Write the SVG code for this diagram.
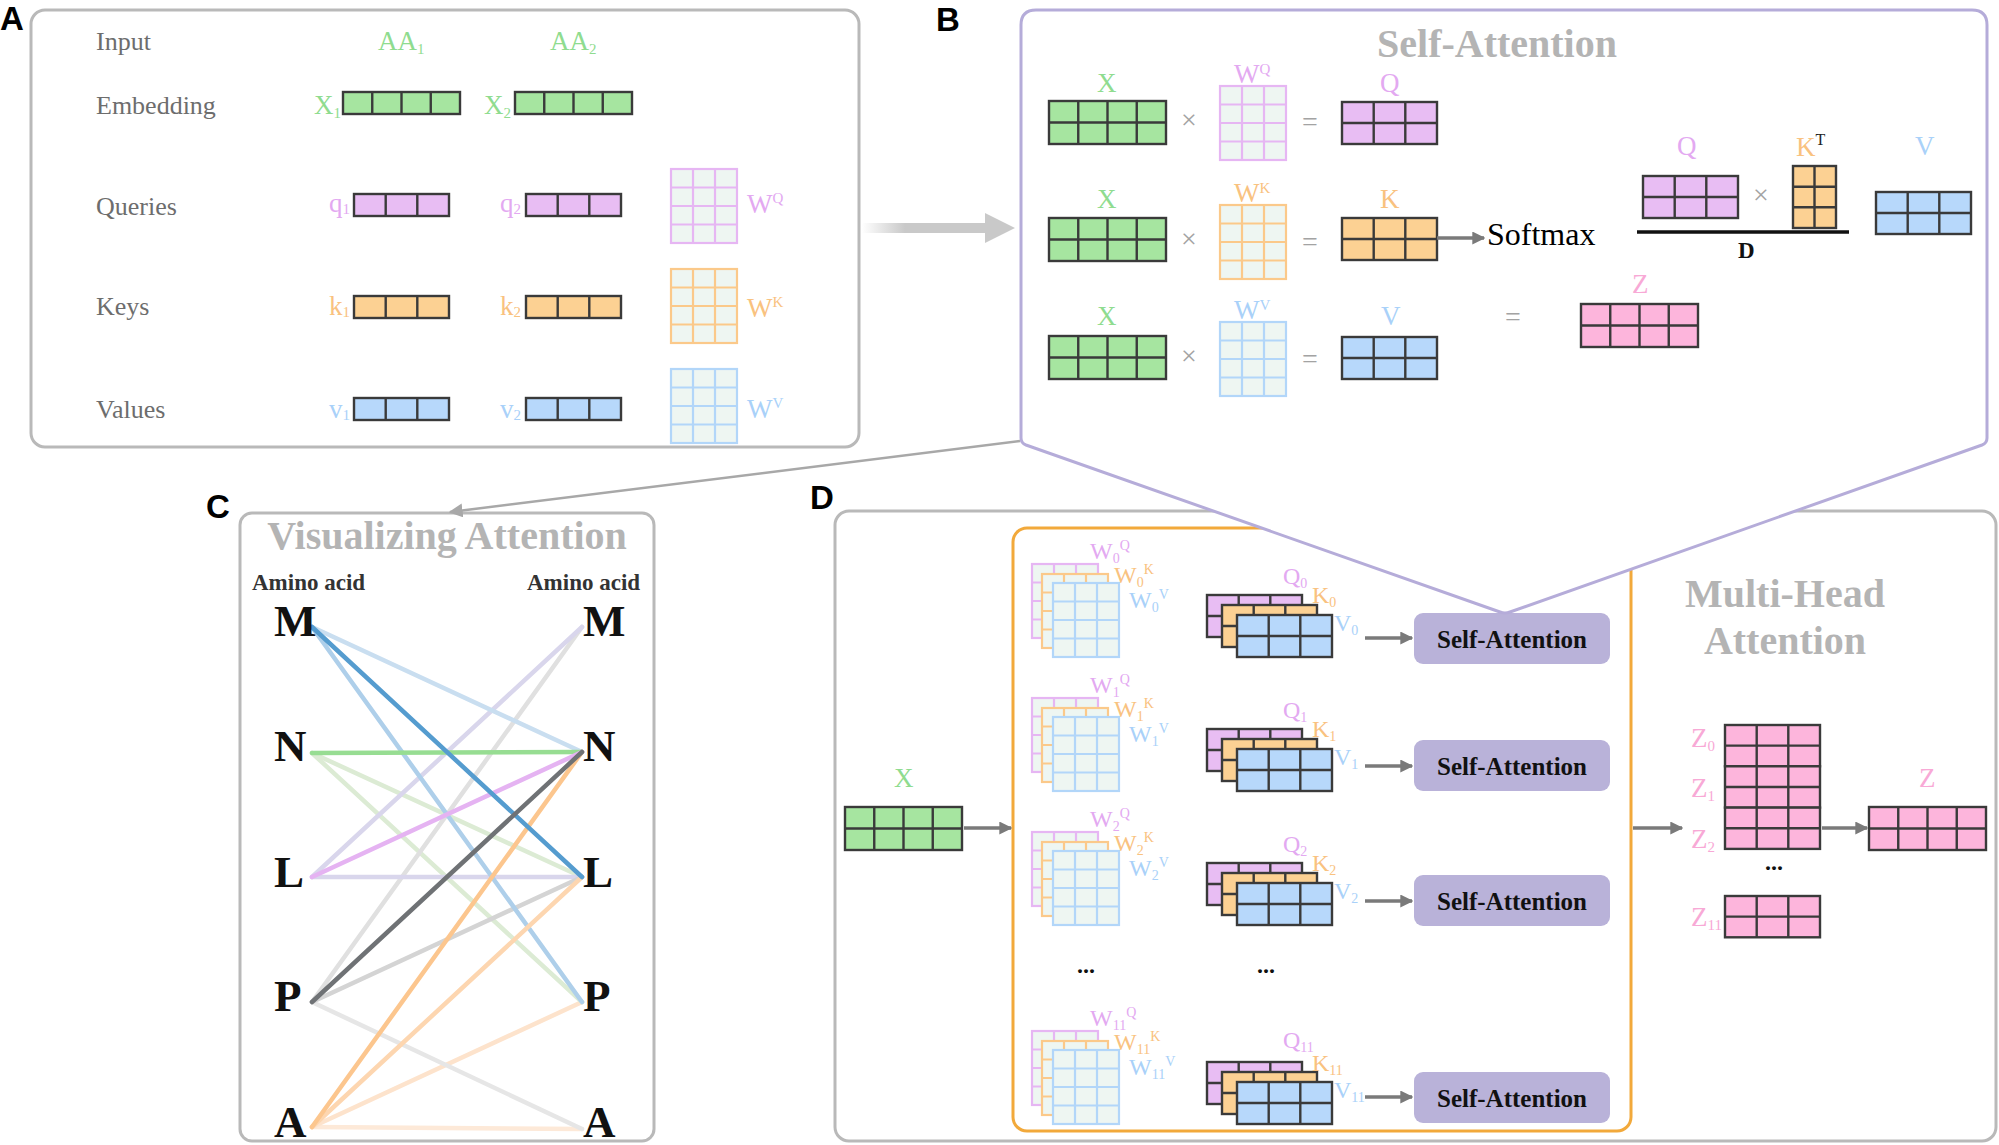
<svg xmlns="http://www.w3.org/2000/svg" width="1999" height="1145" viewBox="0 0 1999 1145">
<style>
text{font-family:"Liberation Serif","Times New Roman",serif}
.pl{font-family:"Liberation Sans",Arial,sans-serif;font-weight:bold;font-size:33px;fill:#000}
.row{font-size:26px;fill:#6d6d6d}
.lab{font-size:27px}
.sm{font-size:15px}
.wl{font-size:24px}
.ws{font-size:14px}
.gr{fill:#8fdc8f}.vi{fill:#e3a9f1}.or{fill:#f9c27f}.bl{fill:#a9d1f9}.pk{fill:#f8a9d6}
.op{font-size:28px;fill:#a3a3a3}
.ttl{font-weight:bold;font-size:40px;fill:#b4b4b4}
.sa{font-weight:bold;font-size:25px;fill:#111}
.dots{font-weight:bold;font-size:24px;fill:#111}
.aa{font-weight:bold;font-size:45px;fill:#111}
.am{font-weight:bold;font-size:23px;fill:#333}
.box{fill:#fff;stroke:#b9b9b9;stroke-width:3}
.dk{stroke:#3a3a3a;stroke-width:2.4}
.ar{stroke:#7a7a7a;stroke-width:3.5;fill:none;marker-end:url(#ah)}
.cl line{stroke-width:4.5;stroke-linecap:round}
</style>
<defs>
<marker id="ah" viewBox="0 0 10 10" refX="9" refY="5" markerWidth="13" markerHeight="13" markerUnits="userSpaceOnUse" orient="auto"><path d="M0 0L10 5L0 10z" fill="#7a7a7a"/></marker>
<marker id="ahg" viewBox="0 0 10 10" refX="9" refY="5" markerWidth="14" markerHeight="14" markerUnits="userSpaceOnUse" orient="auto"><path d="M0 0L10 5L0 10z" fill="#a8a8a8"/></marker>
<linearGradient id="fade" gradientUnits="userSpaceOnUse" x1="862" y1="0" x2="905" y2="0"><stop offset="0" stop-color="#ffffff"/><stop offset="1" stop-color="#c9c9c9"/></linearGradient>
<g id="g41"><rect width="117" height="22" fill="#a6e5a0" class="dk"/><path d="M29.25 0V22M58.5 0V22M87.75 0V22" class="dk"/></g>
<g id="v31"><rect width="95" height="22" fill="#e8bdf3" class="dk"/><path d="M31.7 0V22M63.3 0V22" class="dk"/></g>
<g id="o31"><rect width="95" height="22" fill="#fcd193" class="dk"/><path d="M31.7 0V22M63.3 0V22" class="dk"/></g>
<g id="b31"><rect width="95" height="22" fill="#b7d8fb" class="dk"/><path d="M31.7 0V22M63.3 0V22" class="dk"/></g>
<g id="g42"><rect width="117" height="43" fill="#a6e5a0" class="dk"/><path d="M29.25 0V43M58.5 0V43M87.75 0V43M0 21.5H117" class="dk"/></g>
<g id="p42"><rect width="117" height="43" fill="#fdb5dc" class="dk"/><path d="M29.25 0V43M58.5 0V43M87.75 0V43M0 21.5H117" class="dk"/></g>
<g id="v32"><rect width="95" height="42" fill="#e8bdf3" class="dk"/><path d="M31.7 0V42M63.3 0V42M0 21H95" class="dk"/></g>
<g id="o32"><rect width="95" height="42" fill="#fcd193" class="dk"/><path d="M31.7 0V42M63.3 0V42M0 21H95" class="dk"/></g>
<g id="b32"><rect width="95" height="42" fill="#b7d8fb" class="dk"/><path d="M31.7 0V42M63.3 0V42M0 21H95" class="dk"/></g>
<g id="p32"><rect width="95" height="41.3" fill="#fdb5dc" class="dk"/><path d="M31.7 0V41.3M63.3 0V41.3M0 20.65H95" class="dk"/></g>
<g id="o23"><rect width="43" height="62" fill="#fcd193" class="dk"/><path d="M21.5 0V62M0 20.7H43M0 41.3H43" class="dk"/></g>
<g id="wv"><rect width="66" height="74" fill="#eef6f2" stroke="#e6b6f3" stroke-width="2.2"/><path d="M22 0V74M44 0V74M0 18.5H66M0 37H66M0 55.5H66" stroke="#e6b6f3" stroke-width="2.2"/></g>
<g id="wo"><rect width="66" height="74" fill="#eef6f2" stroke="#fbc98a" stroke-width="2.2"/><path d="M22 0V74M44 0V74M0 18.5H66M0 37H66M0 55.5H66" stroke="#fbc98a" stroke-width="2.2"/></g>
<g id="wb"><rect width="66" height="74" fill="#eef6f2" stroke="#b2d6f9" stroke-width="2.2"/><path d="M22 0V74M44 0V74M0 18.5H66M0 37H66M0 55.5H66" stroke="#b2d6f9" stroke-width="2.2"/></g>
<g id="wstack"><use href="#wv"/><use href="#wo" x="10" y="10"/><use href="#wb" x="21" y="19"/></g>
<g id="qkvstack"><use href="#v32"/><use href="#o32" x="15" y="10"/><use href="#b32" x="30" y="20"/></g>
</defs>

<rect width="1999" height="1145" fill="#fff"/>

<text class="pl" x="0" y="30">A</text>
<text class="pl" x="936" y="31">B</text>
<text class="pl" x="206" y="518">C</text>
<text class="pl" x="810" y="509">D</text>

<g id="panelA">
<rect class="box" x="31" y="10" width="828" height="437" rx="14"/>
<text class="row" x="96" y="50">Input</text>
<text class="row" x="96" y="114">Embedding</text>
<text class="row" x="96" y="215">Queries</text>
<text class="row" x="96" y="315">Keys</text>
<text class="row" x="96" y="418">Values</text>
<text class="lab gr" x="378" y="50">AA<tspan class="sm" dy="4">1</tspan></text>
<text class="lab gr" x="550" y="50">AA<tspan class="sm" dy="4">2</tspan></text>
<g id="x1"><text class="lab gr" x="314" y="114">X<tspan class="sm" dy="4">1</tspan></text><use href="#g41" x="343" y="92"/></g>
<g id="x2"><text class="lab gr" x="484" y="114">X<tspan class="sm" dy="4">2</tspan></text><use href="#g41" x="515" y="92"/></g>
<g id="q1"><text class="lab vi" x="329" y="212">q<tspan class="sm" dy="2">1</tspan></text><use href="#v31" x="354" y="194"/></g>
<g id="q2"><text class="lab vi" x="500" y="212">q<tspan class="sm" dy="2">2</tspan></text><use href="#v31" x="526" y="194"/></g>
<g id="k1"><text class="lab or" x="329" y="315">k<tspan class="sm" dy="2">1</tspan></text><use href="#o31" x="354" y="296"/></g>
<g id="k2"><text class="lab or" x="500" y="315">k<tspan class="sm" dy="2">2</tspan></text><use href="#o31" x="526" y="296"/></g>
<g id="v1"><text class="lab bl" x="329" y="418">v<tspan class="sm" dy="2">1</tspan></text><use href="#b31" x="354" y="398"/></g>
<g id="v2"><text class="lab bl" x="500" y="418">v<tspan class="sm" dy="2">2</tspan></text><use href="#b31" x="526" y="398"/></g>
<g id="aWQ"><use href="#wv" x="671" y="169"/><text class="lab vi" x="747" y="213">W<tspan class="sm" dy="-10">Q</tspan></text></g>
<g id="aWK"><use href="#wo" x="671" y="269"/><text class="lab or" x="747" y="317">W<tspan class="sm" dy="-10">K</tspan></text></g>
<g id="aWV"><use href="#wb" x="671" y="369"/><text class="lab bl" x="747" y="418">W<tspan class="sm" dy="-10">V</tspan></text></g>
</g>

<g id="panelC">
<rect class="box" x="240" y="513" width="414" height="628" rx="12"/>
<text class="ttl" x="447" y="549" text-anchor="middle" font-size="39">Visualizing Attention</text>
<text class="am" x="252" y="590">Amino acid</text>
<text class="am" x="527" y="590">Amino acid</text>
<g class="cl">
<line x1="312" y1="1127" x2="582" y2="1129" stroke="#fde9d8"/>
<line x1="312" y1="1127" x2="582" y2="1002" stroke="#fde3cc"/>
<line x1="312" y1="1002" x2="582" y2="1129" stroke="#e6e6e6"/>
<line x1="312" y1="753" x2="582" y2="1002" stroke="#dcebd4"/>
<line x1="312" y1="753" x2="582" y2="877" stroke="#dcebd4"/>
<line x1="312" y1="1002" x2="582" y2="627" stroke="#e0e0e0"/>
<line x1="312" y1="877" x2="582" y2="627" stroke="#d9d6ec"/>
<line x1="312" y1="877" x2="582" y2="877" stroke="#d9d6ec"/>
<line x1="312" y1="1002" x2="582" y2="877" stroke="#d4d4d4"/>
<line x1="312" y1="627" x2="582" y2="752" stroke="#c9def0"/>
<line x1="312" y1="627" x2="582" y2="1002" stroke="#aecfea"/>
<line x1="312" y1="1127" x2="582" y2="877" stroke="#fdd6b0"/>
<line x1="312" y1="1127" x2="582" y2="752" stroke="#fcc68e"/>
<line x1="312" y1="753" x2="582" y2="752" stroke="#97dd92"/>
<line x1="312" y1="877" x2="582" y2="752" stroke="#e5b3f2"/>
<line x1="312" y1="627" x2="582" y2="877" stroke="#559ccf"/>
<line x1="312" y1="1002" x2="582" y2="752" stroke="#6f7275"/>
</g>
<text class="aa" x="274" y="636">M</text>
<text class="aa" x="274" y="761">N</text>
<text class="aa" x="274" y="887">L</text>
<text class="aa" x="274" y="1011">P</text>
<text class="aa" x="274" y="1137">A</text>
<text class="aa" x="583" y="636">M</text>
<text class="aa" x="583" y="761">N</text>
<text class="aa" x="583" y="887">L</text>
<text class="aa" x="583" y="1011">P</text>
<text class="aa" x="583" y="1137">A</text>
</g>

<g id="panelD">
<rect class="box" x="835" y="511" width="1161" height="630" rx="14"/>
<rect x="1013" y="528" width="618" height="603" rx="14" fill="none" stroke="#f2a93b" stroke-width="3"/>
<g id="dX"><text class="lab gr" x="894" y="787">X</text><use href="#g42" x="845" y="807"/></g>
<text class="ttl" x="1785" y="607" text-anchor="middle">Multi-Head</text>
<text class="ttl" x="1785" y="654" text-anchor="middle">Attention</text>

<g id="head0">
<use href="#wstack" x="1032" y="564"/>
<text class="wl vi" x="1090" y="559">W<tspan class="ws" dy="4">0</tspan><tspan class="ws" dy="-13">Q</tspan></text>
<text class="wl or" x="1114" y="583">W<tspan class="ws" dy="4">0</tspan><tspan class="ws" dy="-13">K</tspan></text>
<text class="wl bl" x="1129" y="608">W<tspan class="ws" dy="4">0</tspan><tspan class="ws" dy="-13">V</tspan></text>
<use href="#qkvstack" x="1207" y="595"/>
<text class="wl vi" x="1283" y="584">Q<tspan class="ws" dy="4">0</tspan></text>
<text class="wl or" x="1312" y="603">K<tspan class="ws" dy="4">0</tspan></text>
<text class="wl bl" x="1334" y="631">V<tspan class="ws" dy="4">0</tspan></text>
<rect x="1414" y="613" width="196" height="51" rx="9" fill="#b9b2d9"/>
<text class="sa" x="1512" y="648" text-anchor="middle">Self-Attention</text>
</g>
<g id="head1">
<use href="#wstack" x="1032" y="698"/>
<text class="wl vi" x="1090" y="693">W<tspan class="ws" dy="4">1</tspan><tspan class="ws" dy="-13">Q</tspan></text>
<text class="wl or" x="1114" y="717">W<tspan class="ws" dy="4">1</tspan><tspan class="ws" dy="-13">K</tspan></text>
<text class="wl bl" x="1129" y="742">W<tspan class="ws" dy="4">1</tspan><tspan class="ws" dy="-13">V</tspan></text>
<use href="#qkvstack" x="1207" y="729"/>
<text class="wl vi" x="1283" y="718">Q<tspan class="ws" dy="4">1</tspan></text>
<text class="wl or" x="1312" y="737">K<tspan class="ws" dy="4">1</tspan></text>
<text class="wl bl" x="1334" y="765">V<tspan class="ws" dy="4">1</tspan></text>
<rect x="1414" y="740" width="196" height="51" rx="9" fill="#b9b2d9"/>
<text class="sa" x="1512" y="775" text-anchor="middle">Self-Attention</text>
</g>
<g id="head2">
<use href="#wstack" x="1032" y="832"/>
<text class="wl vi" x="1090" y="827">W<tspan class="ws" dy="4">2</tspan><tspan class="ws" dy="-13">Q</tspan></text>
<text class="wl or" x="1114" y="851">W<tspan class="ws" dy="4">2</tspan><tspan class="ws" dy="-13">K</tspan></text>
<text class="wl bl" x="1129" y="876">W<tspan class="ws" dy="4">2</tspan><tspan class="ws" dy="-13">V</tspan></text>
<use href="#qkvstack" x="1207" y="863"/>
<text class="wl vi" x="1283" y="852">Q<tspan class="ws" dy="4">2</tspan></text>
<text class="wl or" x="1312" y="871">K<tspan class="ws" dy="4">2</tspan></text>
<text class="wl bl" x="1334" y="899">V<tspan class="ws" dy="4">2</tspan></text>
<rect x="1414" y="875" width="196" height="51" rx="9" fill="#b9b2d9"/>
<text class="sa" x="1512" y="910" text-anchor="middle">Self-Attention</text>
</g>
<text class="dots" x="1077" y="973">...</text>
<text class="dots" x="1257" y="973">...</text>
<g id="head11">
<use href="#wstack" x="1032" y="1031"/>
<text class="wl vi" x="1090" y="1026">W<tspan class="ws" dy="4">11</tspan><tspan class="ws" dy="-13">Q</tspan></text>
<text class="wl or" x="1114" y="1050">W<tspan class="ws" dy="4">11</tspan><tspan class="ws" dy="-13">K</tspan></text>
<text class="wl bl" x="1129" y="1075">W<tspan class="ws" dy="4">11</tspan><tspan class="ws" dy="-13">V</tspan></text>
<use href="#qkvstack" x="1207" y="1062"/>
<text class="wl vi" x="1283" y="1048">Q<tspan class="ws" dy="4">11</tspan></text>
<text class="wl or" x="1312" y="1071">K<tspan class="ws" dy="4">11</tspan></text>
<text class="wl bl" x="1334" y="1098">V<tspan class="ws" dy="4">11</tspan></text>
<rect x="1414" y="1072" width="196" height="51" rx="9" fill="#b9b2d9"/>
<text class="sa" x="1512" y="1107" text-anchor="middle">Self-Attention</text>
</g>
<g id="zstack">
<use href="#p32" x="1725" y="725"/>
<use href="#p32" x="1725" y="766.3"/>
<use href="#p32" x="1725" y="807.6"/>
<text class="lab pk" x="1691" y="747" font-size="26">Z<tspan class="sm" dy="4">0</tspan></text>
<text class="lab pk" x="1691" y="797" font-size="26">Z<tspan class="sm" dy="4">1</tspan></text>
<text class="lab pk" x="1691" y="848" font-size="26">Z<tspan class="sm" dy="4">2</tspan></text>
<text class="dots" x="1765" y="870">...</text>
<use href="#p32" x="1725" y="896"/>
<text class="lab pk" x="1691" y="926" font-size="26">Z<tspan class="sm" dy="4">11</tspan></text>
</g>
<g id="zout"><text class="lab pk" x="1919" y="787" font-size="26">Z</text><use href="#p42" x="1869" y="807"/></g>
</g>

<g id="panelB">
<path d="M1021 438V25Q1021 10 1036 10H1972Q1987 10 1987 25V438Q1987 443 1982 445L1510 612Q1505 614 1500 612L1026 445Q1021 443 1021 438Z" fill="#fff" stroke="#b5acd9" stroke-width="3"/>
<text class="ttl" x="1497" y="57" text-anchor="middle">Self-Attention</text>
<g id="rowQ">
<text class="lab gr" x="1097" y="92" font-size="28">X</text><use href="#g42" x="1049" y="101"/>
<text class="op" x="1189" y="129" text-anchor="middle">×</text>
<text class="lab vi" x="1234" y="83" font-size="26">W<tspan class="sm" dy="-9">Q</tspan></text><use href="#wv" x="1220" y="86"/>
<text class="op" x="1310" y="131" text-anchor="middle">=</text>
<text class="lab vi" x="1380" y="92" font-size="27">Q</text><use href="#v32" x="1342" y="102"/>
</g>
<g id="rowK">
<text class="lab gr" x="1097" y="208" font-size="28">X</text><use href="#g42" x="1049" y="218"/>
<text class="op" x="1189" y="248" text-anchor="middle">×</text>
<text class="lab or" x="1234" y="202" font-size="26">W<tspan class="sm" dy="-9">K</tspan></text><use href="#wo" x="1220" y="205"/>
<text class="op" x="1310" y="251" text-anchor="middle">=</text>
<text class="lab or" x="1380" y="208" font-size="27">K</text><use href="#o32" x="1342" y="218"/>
</g>
<g id="rowV">
<text class="lab gr" x="1097" y="325" font-size="28">X</text><use href="#g42" x="1049" y="336"/>
<text class="op" x="1189" y="365" text-anchor="middle">×</text>
<text class="lab bl" x="1234" y="319" font-size="26">W<tspan class="sm" dy="-9">V</tspan></text><use href="#wb" x="1220" y="322"/>
<text class="op" x="1310" y="368" text-anchor="middle">=</text>
<text class="lab bl" x="1381" y="325" font-size="27">V</text><use href="#b32" x="1342" y="337"/>
</g>
<text x="1487" y="245" font-size="32" fill="#000">Softmax</text>
<g id="frac">
<text class="lab vi" x="1677" y="155" font-size="27">Q</text><use href="#v32" x="1643" y="176"/>
<text class="op" x="1761" y="204" text-anchor="middle">×</text>
<text class="lab or" x="1796" y="156" font-size="27">K<tspan font-size="16" fill="#222" dy="-11">T</tspan></text><use href="#o23" x="1793" y="166"/>
<line x1="1637" y1="232" x2="1849" y2="232" stroke="#111" stroke-width="3.5"/>
<text x="1738" y="258" font-size="23" font-weight="bold" fill="#111">D</text>
<text class="lab bl" x="1915" y="155" font-size="27">V</text><use href="#b32" x="1876" y="192"/>
</g>
<text class="op" x="1513" y="326" text-anchor="middle">=</text>
<g id="bZ"><text class="lab pk" x="1632" y="293" font-size="26">Z</text><use href="#p42" x="1581" y="304"/></g>
</g>

<g id="connectors">
<path d="M862 223H985V213L1015 228L985 243V233H862Z" fill="url(#fade)"/>
<line x1="1020" y1="441" x2="450" y2="512" stroke="#a8a8a8" stroke-width="2.5" marker-end="url(#ahg)"/>
<line class="ar" x1="1437" y1="238" x2="1484" y2="238"/>
<line class="ar" x1="964" y1="828" x2="1011" y2="828"/>
<line class="ar" x1="1365" y1="638" x2="1412" y2="638"/>
<line class="ar" x1="1365" y1="766" x2="1412" y2="766"/>
<line class="ar" x1="1365" y1="901" x2="1412" y2="901"/>
<line class="ar" x1="1365" y1="1097" x2="1412" y2="1097"/>
<line class="ar" x1="1633" y1="828" x2="1682" y2="828"/>
<line class="ar" x1="1822" y1="828" x2="1867" y2="828"/>
</g>
</svg>
